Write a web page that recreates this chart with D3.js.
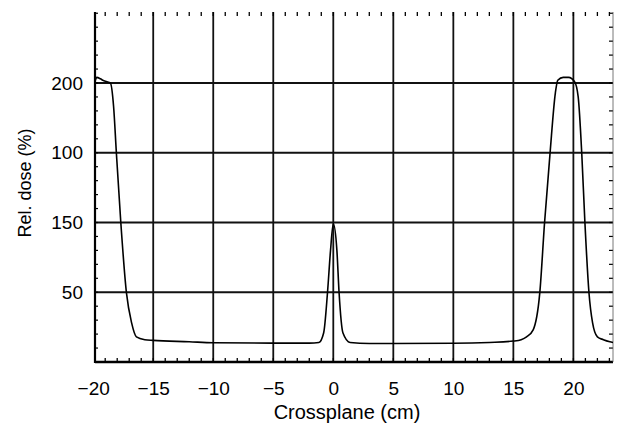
<!DOCTYPE html>
<html lang="en">
<head>
<meta charset="UTF-8">
<title>Crossplane profile</title>
<script src="https://d3js.org/d3.v7.min.js"></script>
<style>
    body { margin: 0; background: white; }
    svg { display: block; }
    .tick-label text { font-family: "Liberation Sans", Arial, sans-serif; font-size: 19px; fill: #000; }
    .axis-label { font-family: "Liberation Sans", Arial, sans-serif; fill: #000; }
</style>
</head>
<body>
<svg width="621" height="430"></svg>
<script>
    // Profile
    const positions = [-19.85, -19.7, -19.4, -19.2, -18.9, -18.57, -18.3, -18.07, -17.7, -17.23, -16.8, -16.4, -15.7,
        -15, -12, -10, -5, -2, -1.2, -0.8, -0.48, -0.23, 0, 0.3, 0.48, 0.8, 1.4, 3, 5, 10, 13, 15, 15.65, 16.1, 16.65,
        17.2, 17.6, 18.05, 18.5, 18.7, 19.15, 19.6, 20.1, 20.4, 20.7, 20.96, 21.3, 21.6, 22.0, 22.5, 23.04, 23.3];
    const doses = [201, 204, 203, 202, 201, 200, 183, 150, 100, 49.5, 28, 18, 16,
        15.5, 14.5, 13.8, 13.5, 13.5, 14, 21, 50, 80, 99, 80, 50, 21, 14, 13.3, 13.3, 13.4, 14, 15, 16, 18, 23,
        49.5, 100, 149, 193, 202, 204, 204, 201, 190, 149, 100, 49.5, 28, 18, 16, 14.5, 14];

    const xTicks = [-20, -15, -10, -5, 0, 5, 10, 15, 20];
    const xTickLabels = ["\u221220", "\u221215", "\u221210", "\u22125", "0", "5", "10", "15", "20"];
    const yTicks = [200, 150, 100, 50];
    const yTickLabels = ["200", "100", "150", "50"];

    const svg = d3.select("svg"),
        plotLeft = 95, plotRight = 613, plotTop = 12, plotBottom = 362;

    const x = d3.scaleLinear().domain([-19.85, 23.3]).range([plotLeft, plotRight]);
    const y = d3.scaleLinear().domain([0, 200]).range([plotBottom, 83]);

    // grid
    svg.append("g").selectAll("line")
        .data(xTicks.filter(d => d > -19))
        .enter().append("line")
        .attr("x1", d => x(d)).attr("x2", d => x(d))
        .attr("y1", plotTop).attr("y2", plotBottom)
        .attr("stroke", "#111").attr("stroke-width", 1.8);

    svg.append("g").selectAll("line")
        .data(yTicks)
        .enter().append("line")
        .attr("x1", plotLeft).attr("x2", plotRight)
        .attr("y1", d => y(d)).attr("y2", d => y(d))
        .attr("stroke", "#111").attr("stroke-width", 1.8);

    // minor ticks
    const cmTicks = d3.range(-19, 24, 1);
    svg.append("g").selectAll("line")
        .data(cmTicks)
        .enter().append("line")
        .attr("x1", d => x(d)).attr("x2", d => x(d))
        .attr("y1", plotBottom).attr("y2", plotBottom - 4)
        .attr("stroke", "#000").attr("stroke-width", 1.3);
    svg.append("g").selectAll("line")
        .data(cmTicks)
        .enter().append("line")
        .attr("x1", d => x(d)).attr("x2", d => x(d))
        .attr("y1", plotTop).attr("y2", plotTop + 4)
        .attr("stroke", "#000").attr("stroke-width", 1.3);

    const doseTicks = d3.range(10, 251, 10);
    svg.append("g").selectAll("line")
        .data(doseTicks)
        .enter().append("line")
        .attr("x1", plotLeft).attr("x2", plotLeft + 3)
        .attr("y1", d => y(d)).attr("y2", d => y(d))
        .attr("stroke", "#000").attr("stroke-width", 1.2);
    svg.append("g").selectAll("line")
        .data(doseTicks)
        .enter().append("line")
        .attr("x1", plotRight).attr("x2", plotRight - 4)
        .attr("y1", d => y(d)).attr("y2", d => y(d))
        .attr("stroke", "#000").attr("stroke-width", 1.2);

    // frame
    svg.append("line").attr("x1", plotLeft).attr("x2", plotLeft).attr("y1", plotTop).attr("y2", plotBottom + 1)
        .attr("stroke", "#000").attr("stroke-width", 2.2);
    svg.append("line").attr("x1", plotLeft).attr("x2", plotRight).attr("y1", plotBottom).attr("y2", plotBottom)
        .attr("stroke", "#000").attr("stroke-width", 2.4);
    svg.append("line").attr("x1", plotRight).attr("x2", plotRight).attr("y1", plotTop).attr("y2", plotBottom)
        .attr("stroke", "#555").attr("stroke-width", 0.8);

    // profile curve
    const pts = positions.map((p, i) => [p, doses[i]]);
    svg.append("path")
        .datum(pts)
        .attr("fill", "none")
        .attr("stroke", "#000")
        .attr("stroke-width", 1.6)
        .attr("d", d3.line().x(d => x(d[0])).y(d => y(d[1])).curve(d3.curveMonotoneX));

    // tick labels
    svg.append("g")
        .attr("class", "tick-label")
        .attr("transform", `translate(0,${plotBottom + 16})`)
        .call(d3.axisBottom(x).tickValues(xTicks).tickSize(0)
            .tickFormat((d, i) => xTickLabels[i]))
        .call(g => g.select(".domain").remove());

    svg.append("g")
        .attr("class", "tick-label")
        .attr("transform", `translate(${plotLeft - 9},0)`)
        .call(d3.axisLeft(y).tickValues(yTicks).tickSize(0)
            .tickFormat((d, i) => yTickLabels[i]))
        .call(g => g.select(".domain").remove());

    // axis titles
    svg.append("text")
        .attr("class", "axis-label")
        .attr("x", 347).attr("y", 419)
        .attr("text-anchor", "middle")
        .style("font-size", "20px")
        .text("Crossplane (cm)");

    svg.append("text")
        .attr("class", "axis-label")
        .attr("transform", "rotate(-90)")
        .attr("x", -183).attr("y", 31)
        .attr("text-anchor", "middle")
        .style("font-size", "18px")
        .text("Rel. dose (%)");
</script>
</body>
</html>
